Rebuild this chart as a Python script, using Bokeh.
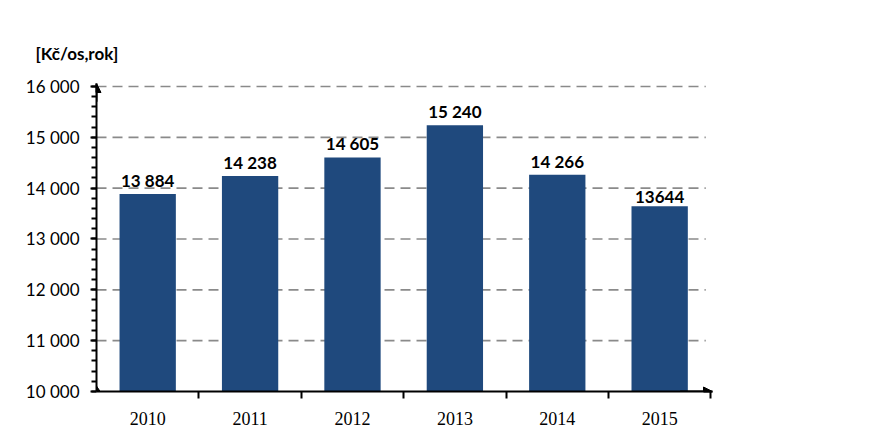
from bokeh.plotting import figure
from bokeh.models import FixedTicker, Arrow, NormalHead, ColumnDataSource, Range1d
from bokeh.core.properties import value
from bokeh.embed import file_html
from bokeh.resources import INLINE

years = ["2010", "2011", "2012", "2013", "2014", "2015"]
costs = [13884, 14238, 14605, 15240, 14266, 13644]
cost_labels = ["13 884", "14 238", "14 605", "15 240", "14 266", "13644"]
y_ticks = [10000, 11000, 12000, 13000, 14000, 15000, 16000]
y_tick_labels = ["10 000", "11 000", "12 000", "13 000", "14 000", "15 000", "16 000"]
unit_label = "[Kč/os,rok]"

xs = [i + 0.5 for i in range(len(years))]
src = ColumnDataSource(dict(x=xs, top=costs, label=cost_labels))

p = figure(width=862, height=432, output_backend="svg", toolbar_location=None,
           x_range=Range1d(0, 6.016), y_range=Range1d(10000, 16059),
           min_border_left=96, min_border_right=150, min_border_top=83, min_border_bottom=41,
           title=unit_label)
p.title.align = "left"
p.title.offset = -61
p.title.standoff = 39
p.title.text_font = "Lato"
p.title.text_font_size = "17px"
p.title.text_font_style = "bold"
p.title.text_color = "black"

p.outline_line_color = None
p.xgrid.visible = False
p.ygrid.visible = False

# dashed gridlines
gy = y_ticks[1:]
p.segment(x0=[0] * len(gy), x1=[5.95] * len(gy), y0=gy, y1=gy,
          line_color="#8a8a8a", line_width=1.6, line_dash="10 6")

p.vbar(x="x", top="top", bottom=10000, width=0.55, source=src,
       fill_color="#1F497D", line_color=None)

p.text(x="x", y="top", text="label", source=src, text_align="center", text_baseline="bottom",
       y_offset=-3, text_font=value("Lato"), text_font_size="17px", text_font_style="bold",
       text_color="#000000")

# x axis
p.xaxis.ticker = FixedTicker(ticks=xs, minor_ticks=[1, 2, 3, 4, 5, 6])
p.xaxis.major_label_overrides = {x: y for x, y in zip(xs, years)}
p.xaxis.major_tick_line_color = None
p.xaxis.minor_tick_in = 0
p.xaxis.minor_tick_out = 7
p.xaxis.minor_tick_line_width = 2
p.xaxis.axis_line_width = 2
p.xaxis.axis_line_color = "black"
p.xaxis.major_label_text_font = "Liberation Serif"
p.xaxis.major_label_text_font_size = "18px"
p.xaxis.major_label_text_color = "black"
p.xaxis.major_label_standoff = 13

# y axis
p.yaxis.ticker = FixedTicker(ticks=y_ticks,
                             minor_ticks=[10000 + 200 * k for k in range(31)])
p.yaxis.major_label_overrides = {t: l for t, l in zip(y_ticks, y_tick_labels)}
p.yaxis.axis_line_width = 2
p.yaxis.axis_line_color = "black"
p.yaxis.major_tick_in = 0
p.yaxis.major_tick_out = 6
p.yaxis.major_tick_line_width = 2
p.yaxis.minor_tick_in = 0
p.yaxis.minor_tick_out = 5
p.yaxis.minor_tick_line_width = 2
p.yaxis.major_label_text_font = "Lato"
p.yaxis.major_label_text_font_size = "17px"
p.yaxis.major_label_text_color = "black"
p.yaxis.major_label_standoff = 11

# arrows
p.add_layout(Arrow(x_start=0, y_start=15700, x_end=0, y_end=16059, line_width=2,
                   end=NormalHead(size=9, fill_color="black", line_color="black")))
p.add_layout(Arrow(x_start=5.7, y_start=10000, x_end=6.016, y_end=10000, line_width=2,
                   end=NormalHead(size=9, fill_color="black", line_color="black")))
p.scatter(x=[0], y=[10000], marker="diamond", size=11, fill_color="black", line_color="black")

open("out.html", "w").write(file_html(p, INLINE))
